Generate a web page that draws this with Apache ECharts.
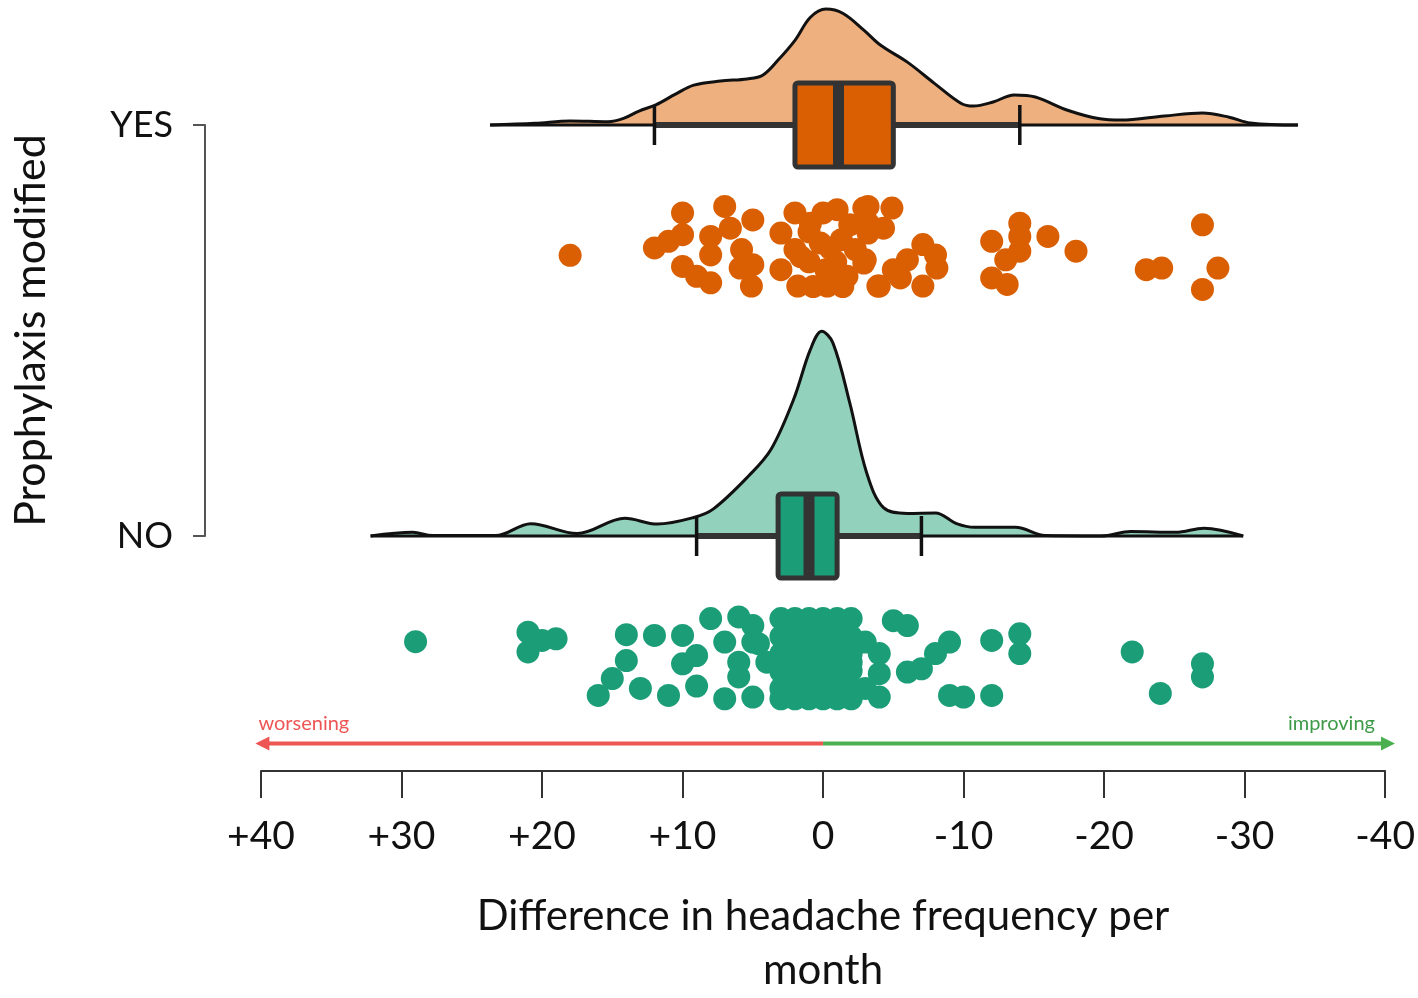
<!DOCTYPE html>
<html>
<head>
<meta charset="utf-8">
<script src="https://cdn.jsdelivr.net/npm/echarts@6/dist/echarts.min.js"></script>
<style>
html,body{margin:0;padding:0;background:#fff;}
#chart{width:1418px;height:998px;}
</style>
</head>
<body>
<div id="chart"></div>
<script>
// ---- data ----
const categories = ['NO', 'YES'];               // y positions 0 and 1
const xTickLabels = ['+40', '+30', '+20', '+10', '0', '-10', '-20', '-30', '-40'];
const xTickValues = [40, 30, 20, 10, 0, -10, -20, -30, -40];

// density outlines: [difference, height above baseline]
const yesDensity = [[23.7,0],[20.5,0.004],[18.0,0.010],[15.3,0.008],[14.2,0.016],[13.1,0.034],[11.9,0.049],[10.5,0.075],[9.2,0.097],[7.3,0.107],[5.4,0.112],[4.3,0.121],[3.2,0.158],[2.0,0.206],[0.9,0.262],[-0.2,0.282],[-1.4,0.272],[-2.9,0.231],[-4.1,0.194],[-6.0,0.153],[-7.9,0.102],[-9.8,0.053],[-10.7,0.046],[-12.1,0.056],[-13.6,0.073],[-15.1,0.068],[-17.4,0.036],[-19.7,0.015],[-21.2,0.012],[-24.3,0.022],[-27.0,0.029],[-28.9,0.019],[-30.4,0.005],[-33.8,0]];
const noDensity = [[32.2,0],[29.2,0.009],[27.8,0.001],[23.3,0.001],[20.8,0.030],[17.5,0.006],[14.1,0.043],[11.8,0.029],[9.2,0.045],[7.8,0.066],[5.3,0.146],[3.7,0.211],[2.1,0.332],[0.9,0.454],[0.1,0.498],[-0.7,0.470],[-1.9,0.324],[-3.1,0.154],[-4.3,0.069],[-6.0,0.055],[-8.0,0.056],[-9.5,0.030],[-10.8,0.021],[-13.7,0.021],[-15.8,0.001],[-19.8,0],[-21.9,0.011],[-25.1,0.009],[-27.1,0.019],[-29.9,0]];

// box plot stats, order [YES, NO]
const boxBase   = [1, 0];
const boxLow    = [12, 9];
const boxQ1     = [2, 3.2];
const boxMedian = [-1.1, 1];
const boxQ3     = [-5, -1];
const boxHigh   = [-14, -7];

// jittered points: [difference, vertical position]
const yesDots = [[18,0.683],[10,0.786],[7,0.802],[5,0.769],[12,0.701],[11,0.717],[10,0.733],[10,0.656],[9,0.632],[8,0.616],[8,0.729],[6.6,0.749],[5.8,0.697],[5.9,0.652],[5.0,0.660],[5.1,0.608],[8.0,0.684],[2.0,0.786],[3.0,0.737],[0.9,0.761],[-1.0,0.794],[-2.9,0.798],[3.0,0.648],[1.8,0.608],[1.6,0.680],[0.2,0.713],[-0.3,0.608],[-1.3,0.721],[-0.8,0.656],[-1.7,0.632],[-2.9,0.664],[-3.9,0.608],[-3.2,0.737],[-3.2,0.802],[-4.9,0.798],[-3.2,0.761],[-4.3,0.749],[-3.0,0.672],[-5.0,0.648],[-4.0,0.608],[-6.0,0.672],[-7.1,0.709],[-8.0,0.684],[-8.1,0.652],[-7.1,0.608],[-5.5,0.628],[-12.0,0.717],[-14.0,0.761],[-14.0,0.729],[-14.0,0.693],[-13.0,0.672],[-12.0,0.628],[-13.1,0.612],[-16.0,0.729],[-18.0,0.693],[-23.0,0.648],[-24.1,0.652],[-27.0,0.757],[-28.1,0.652],[-27.0,0.600],[2.0,0.697],[1.0,0.667],[0.7,0.607],[0.0,0.786],[-0.2,0.648],[-0.9,0.667],[-1.4,0.607],[-1.9,0.757],[-2.3,0.697],[1.0,0.740],[-0.5,0.700]];
const noDots = [[29,-0.257],[21,-0.234],[21,-0.282],[20,-0.254],[19,-0.250],[14,-0.240],[12,-0.242],[10,-0.242],[14,-0.303],[15,-0.347],[16,-0.388],[13,-0.371],[11,-0.388],[10,-0.311],[9,-0.291],[9,-0.365],[8,-0.201],[7,-0.258],[7,-0.396],[6,-0.197],[5,-0.218],[5,-0.258],[6,-0.307],[6,-0.343],[5,-0.392],[4,-0.307],[4.6,-0.262],[-5,-0.206],[-6,-0.218],[-6,-0.331],[-7,-0.323],[-8,-0.286],[-9,-0.258],[-9,-0.388],[-10,-0.392],[-12,-0.254],[-12,-0.388],[-14,-0.238],[-14,-0.286],[-22,-0.282],[-24,-0.383],[-27,-0.311],[-27,-0.343],[-3,-0.258],[-4,-0.286],[-4,-0.335],[-3,-0.371],[-4,-0.392],[-2,-0.307],
 [3,-0.201],[2,-0.201],[1,-0.201],[0,-0.201],[-1,-0.201],[-2,-0.201],
 [3,-0.245],[2,-0.245],[1,-0.245],[0,-0.245],[-1,-0.245],[-2,-0.245],
 [3,-0.286],[2,-0.286],[1,-0.286],[0,-0.286],[-1,-0.286],[-2,-0.286],
 [3,-0.330],[2,-0.328],[1,-0.328],[0,-0.328],[-1,-0.328],[-2,-0.328],
 [3,-0.371],[2,-0.371],[1,-0.371],[0,-0.371],[-1,-0.371],[-2,-0.371],
 [3,-0.396],[2,-0.396],[1,-0.396],[0,-0.396],[-1,-0.396],[-2,-0.396]];

// direction arrows (annotation, in data units)
const arrowLabels = ['worsening', 'improving'];
const arrowFrom = [0, 0];
const arrowTo = [40.4, -40.7];
const arrowY = -0.505;

// ---- styles ----
const FONT = 'Lato';
const orangeDot = '#d95f02', orangeFill = '#eeb07f';
const greenDot = '#1b9e77', greenFill = '#92d1bc';
const boxColors = [orangeDot, greenDot];
const arrowColors = ['#ee5555', '#4caf50'];
const arrowTextColors = ['#ee5555', '#3d9a48'];

const chart = echarts.init(document.getElementById('chart'));

function densityLine(arr, base) { return arr.map(p => [p[0], base + p[1]]); }
function baseLine(arr, base) { return [[arr[0][0], base], [arr[arr.length-1][0], base]]; }

const boxData = boxBase.map((b, i) => [boxLow[i], boxQ1[i], boxMedian[i], boxQ3[i], boxHigh[i], b, i]);
const arrowData = arrowLabels.map((t, i) => [arrowFrom[i], arrowTo[i], arrowY, i]);

const option = {
  animation: false,
  backgroundColor: '#fff',
  grid: { left: 261, right: 27, top: 125, height: 412, containLabel: false },
  xAxis: {
    type: 'value', min: -40, max: 40, interval: 10, inverse: true,
    offset: 235,
    axisLine: { show: true, onZero: false, lineStyle: { color: '#333', width: 2 } },
    axisTick: { show: true, length: 27, lineStyle: { color: '#333', width: 2 } },
    splitLine: { show: false },
    axisLabel: {
      margin: 46, fontSize: 39, fontFamily: FONT, color: '#111',
      formatter: v => { const i = xTickValues.indexOf(v); return i >= 0 ? xTickLabels[i] : ''; }
    },
    name: 'Difference in headache frequency per\nmonth',
    nameLocation: 'middle', nameGap: 118,
    nameTextStyle: { fontSize: 42, fontFamily: FONT, color: '#111', lineHeight: 54 }
  },
  yAxis: {
    type: 'value', min: 0, max: 1, interval: 1,
    offset: 56,
    axisLine: { show: true, onZero: false, lineStyle: { color: '#555', width: 2 } },
    axisTick: { show: true, length: 12, lineStyle: { color: '#555', width: 2 } },
    splitLine: { show: false },
    axisLabel: {
      margin: 32, fontSize: 36, fontFamily: FONT, color: '#111',
      formatter: v => categories[v] !== undefined ? categories[v] : ''
    },
    name: 'Prophylaxis modified',
    nameLocation: 'middle', nameGap: 152, nameRotate: 90,
    nameTextStyle: { fontSize: 43, fontFamily: FONT, color: '#111' }
  },
  series: [
    {
      type: 'line', data: densityLine(yesDensity, 1), smooth: 0.35, symbol: 'none', clip: false, z: 1,
      lineStyle: { color: '#111', width: 3 },
      areaStyle: { color: orangeFill, opacity: 1, origin: 1 }
    },
    {
      type: 'line', data: baseLine(yesDensity, 1), symbol: 'none', clip: false, z: 1,
      lineStyle: { color: '#111', width: 3 }
    },
    {
      type: 'line', data: densityLine(noDensity, 0), smooth: 0.35, symbol: 'none', clip: false, z: 1,
      lineStyle: { color: '#111', width: 3 },
      areaStyle: { color: greenFill, opacity: 1, origin: 0 }
    },
    {
      type: 'line', data: baseLine(noDensity, 0), symbol: 'none', clip: false, z: 1,
      lineStyle: { color: '#111', width: 3 }
    },
    {
      type: 'custom', clip: false, z: 3, data: boxData,
      renderItem: function (params, api) {
        const base = api.value(5);
        const idx = api.value(6);
        const cy = api.coord([0, base])[1];
        const xLo = api.coord([api.value(0), base])[0];
        const xQ1 = api.coord([api.value(1), base])[0];
        const xMd = api.coord([api.value(2), base])[0];
        const xQ3 = api.coord([api.value(3), base])[0];
        const xHi = api.coord([api.value(4), base])[0];
        const half = 42, cap = 20;
        const l = Math.min(xQ1, xQ3), r = Math.max(xQ1, xQ3);
        return {
          type: 'group',
          children: [
            { type: 'line', shape: { x1: xLo, y1: cy, x2: xHi, y2: cy }, style: { stroke: '#333', lineWidth: 6 } },
            { type: 'line', shape: { x1: xLo, y1: cy - cap, x2: xLo, y2: cy + cap }, style: { stroke: '#111', lineWidth: 3.5 } },
            { type: 'line', shape: { x1: xHi, y1: cy - cap, x2: xHi, y2: cy + cap }, style: { stroke: '#111', lineWidth: 3.5 } },
            { type: 'rect', shape: { x: l, y: cy - half, width: r - l, height: 2 * half, r: 3 }, style: { fill: boxColors[idx], stroke: '#333', lineWidth: 5 } },
            { type: 'line', shape: { x1: xMd, y1: cy - half, x2: xMd, y2: cy + half }, style: { stroke: '#333', lineWidth: 11 } }
          ]
        };
      }
    },
    {
      type: 'scatter', data: yesDots, symbolSize: 23, clip: false, z: 4,
      itemStyle: { color: orangeDot, opacity: 1 }
    },
    {
      type: 'scatter', data: noDots, symbolSize: 23, clip: false, z: 4,
      itemStyle: { color: greenDot, opacity: 1 }
    },
    {
      type: 'custom', clip: false, z: 5, data: arrowData, silent: true,
      renderItem: function (params, api) {
        const i = api.value(3);
        const p0 = api.coord([api.value(0), api.value(2)]);
        const p1 = api.coord([api.value(1), api.value(2)]);
        const dir = p1[0] > p0[0] ? 1 : -1;
        const head = 14, hw = 7;
        const col = arrowColors[i];
        return {
          type: 'group',
          children: [
            { type: 'line', shape: { x1: p0[0], y1: p0[1], x2: p1[0] - dir * head * 0.8, y2: p1[1] }, style: { stroke: col, lineWidth: 4 } },
            { type: 'polygon', shape: { points: [[p1[0], p1[1]], [p1[0] - dir * head, p1[1] - hw], [p1[0] - dir * head, p1[1] + hw]] }, style: { fill: col } },
            { type: 'text', style: {
                text: arrowLabels[i], x: dir > 0 ? p1[0] - 20 : p1[0] + 3, y: p1[1] - 20,
                align: dir > 0 ? 'right' : 'left', verticalAlign: 'middle',
                fill: arrowTextColors[i], fontSize: 20, fontFamily: FONT } }
          ]
        };
      }
    }
  ]
};
chart.setOption(option);
</script>
</body>
</html>
